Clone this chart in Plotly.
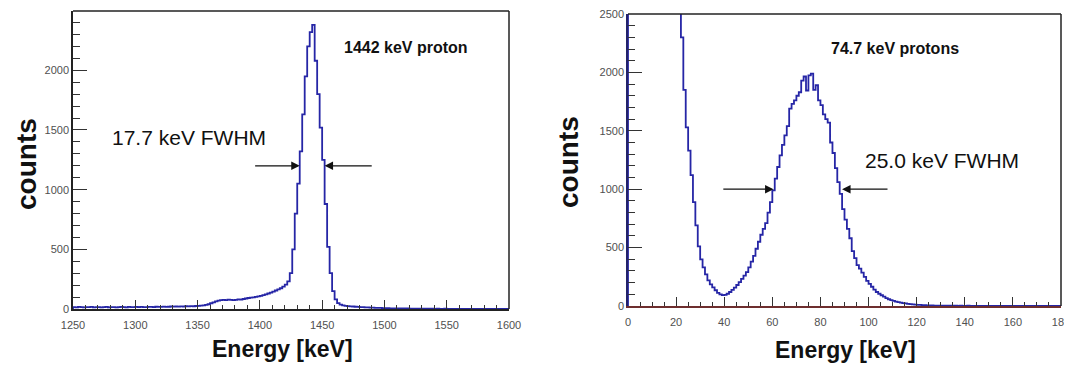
import numpy as np
import plotly.graph_objects as go

# ---------------- data ----------------
# Left spectrum: 1442 keV protons, 2 keV bins from 1250 keV
left_start = 1250
left_binw = 2
left_counts = [
    16, 14, 17, 15, 13, 16, 15, 17, 14, 15, 16, 13, 15, 17, 14, 16, 15, 14, 16, 18,
    15, 14, 17, 16, 15, 18, 16, 17, 15, 16, 18, 17, 16, 19, 17, 18, 20, 18, 19, 21,
    20, 21, 20, 22, 21, 23, 22, 24, 23, 25, 26, 28, 30, 34, 40,
    48, 56, 64, 70, 74, 76, 75, 78, 76, 74,
    77, 80, 79, 84, 88, 92, 95, 98, 102, 105,
    110, 116, 122, 130, 138, 146, 155, 164, 174, 188, 205, 232,
    300, 500, 800, 1050, 1320, 1630, 1950, 2200, 2320, 2380, 2080, 1800,
    1520, 1250, 880, 520, 300, 150, 80, 50, 36, 30, 27, 24,
    22, 21, 19, 18, 16, 15, 14, 13, 12, 11,
    10, 9, 9, 8, 8, 7, 6, 6, 5, 5, 5, 4, 4, 4, 3, 3, 3, 3, 2, 2,
    2, 2, 2, 2, 1, 2, 1, 1, 2, 1, 1, 1, 1, 1, 1, 1, 0, 1, 1, 1,
    0, 1, 1, 0, 1, 0, 1, 1, 0, 1, 0, 0, 1, 0,
]

# Right spectrum: 74.7 keV protons, 1 keV bins from 0 keV
right_start = 0
right_binw = 1
right_counts = [
    9800, 9400, 9000, 8600, 8100, 7700, 7200, 6800, 6400, 6000,
    5600, 5200, 4900, 4600, 4300, 4000, 3800, 3600, 3400, 3200,
    3000, 2650, 2300, 1850, 1530, 1330, 1120, 890, 690, 510,
    400, 330, 270, 220, 185, 160, 135, 112, 100, 93,
    95, 105, 120, 138, 158, 180, 205, 232, 260, 290,
    330, 380, 430, 490, 550, 610, 660, 710, 800, 890,
    990, 1090, 1190, 1290, 1380, 1460, 1540, 1690, 1730, 1760,
    1800, 1830, 1930, 1965, 1845, 1975, 1990, 1850, 1890, 1760,
    1720, 1640, 1600, 1570, 1400, 1310, 1180, 1060, 960, 830,
    740, 660, 580, 470, 410, 350, 320, 285, 250, 215,
    190, 165, 140, 120, 105, 92, 80, 68, 58, 50,
    44, 38, 33, 29, 25, 22, 19, 16, 14, 12,
    10, 9, 8, 7, 6, 5, 5, 4, 4, 3,
    3, 3, 2, 3, 2, 2, 2, 1, 2, 1, 1, 2, 1, 1, 1, 1, 0, 1, 1, 1,
    1, 0, 1, 1, 0, 1, 1, 0, 1, 0, 1, 1, 0, 1, 0, 1, 0, 0, 1, 0,
    1, 0, 0, 1, 0, 0, 1, 0, 0, 1,
]

left_xticks = [1250, 1300, 1350, 1400, 1450, 1500, 1550, 1600]
left_yticks = [0, 500, 1000, 1500, 2000]
right_xticks = [0, 20, 40, 60, 80, 100, 120, 140, 160, 180]
right_yticks = [0, 500, 1000, 1500, 2000, 2500]

left_label = "1442 keV proton"
left_fwhm = "17.7 keV FWHM"
right_label = "74.7 keV protons"
right_fwhm = "25.0 keV FWHM"

# FWHM arrow positions (data units): (tail, head) at height
left_arrows = [(1395, 1432), (1491, 1452)]
left_arrow_y = 1200
right_arrows = [(39, 60.5), (108.5, 89)]
right_arrow_y = 1000

# ---------------- helpers ----------------
def step_xy(start, width, counts):
    counts = np.asarray(counts, dtype=float)
    edges = start + width * np.arange(len(counts) + 1)
    x = np.concatenate([[edges[0]], edges])
    y = np.concatenate([[0.0], counts, [counts[-1]]])
    return x, y

FONT = "Liberation Sans, Arial, Helvetica, sans-serif"
LINE_COLOR = "#2626a6"

fig = go.Figure()
lx, ly = step_xy(left_start, left_binw, left_counts)
rx, ry = step_xy(right_start, right_binw, right_counts)
fig.add_trace(go.Scatter(x=lx, y=ly, mode="lines", line=dict(color=LINE_COLOR, width=1.8, shape="hv"),
                         xaxis="x", yaxis="y", showlegend=False, hoverinfo="skip"))
fig.add_trace(go.Scatter(x=rx, y=ry, mode="lines", line=dict(color=LINE_COLOR, width=1.8, shape="hv"),
                         xaxis="x2", yaxis="y2", showlegend=False, hoverinfo="skip"))

# page body margin offsets the figure by ~8px; work in page pixels
OFF = 8
W, H = 1072 - OFF, 368 - OFF

def px(xp):
    return (xp - OFF) / W

def py(yp):
    return 1 - (yp - OFF) / H

L_dom_x = [px(73), px(509)]
L_dom_y = [py(309), py(11)]
R_dom_x = [px(628), px(1061)]
R_dom_y = [py(306), py(14)]

tickfont = dict(family=FONT, size=11, color="#505050")

def xaxis(dom, rng, tv, dtick_minor, anchor, linecolor):
    return dict(domain=dom, range=rng, anchor=anchor, tickvals=tv, ticks="inside",
                ticklen=9, tickwidth=1, tickcolor="#333333", showgrid=False, zeroline=False,
                showline=True, linecolor=linecolor, linewidth=1.5, mirror=False,
                tickfont=tickfont, ticklabelstandoff=5, automargin=False,
                ticklabeloverflow="allow",
                minor=dict(ticks="inside", ticklen=4.5, dtick=dtick_minor, tickcolor="#333333",
                           showgrid=False))

def yaxis(dom, rng, tv, anchor, linecolor):
    return dict(domain=dom, range=rng, anchor=anchor, tickvals=tv, ticks="inside",
                ticklen=14, tickwidth=1, tickcolor="#333333", showgrid=False, zeroline=False,
                showline=True, linecolor=linecolor, linewidth=1.5, mirror=False,
                tickfont=tickfont, ticklabelstandoff=0, automargin=False,
                ticklabeloverflow="allow",
                minor=dict(ticks="inside", ticklen=7, dtick=100, tickcolor="#333333",
                           showgrid=False))

fig.update_layout(
    width=W, height=H, margin=dict(l=0, r=0, t=0, b=0, autoexpand=False),
    paper_bgcolor="white", plot_bgcolor="white", showlegend=False,
    xaxis=xaxis(L_dom_x, [1250, 1600], left_xticks, 10, "y", "#222222"),
    yaxis=yaxis(L_dom_y, [0, 2497], left_yticks, "x", "#222222"),
    xaxis2=xaxis(R_dom_x, [0, 180], right_xticks, 5, "y2", "#6e2e2e"),
    yaxis2=yaxis(R_dom_y, [0, 2500], right_yticks, "x2", "#22226a"),
)

# frame: top and right edges
shapes = []
for xr, yr in (("x domain", "y domain"), ("x2 domain", "y2 domain")):
    shapes.append(dict(type="line", xref=xr, yref=yr, x0=0, x1=1, y0=1, y1=1,
                       line=dict(color="#222222", width=1.5)))
    shapes.append(dict(type="line", xref=xr, yref=yr, x0=1, x1=1, y0=0, y1=1,
                       line=dict(color="#222222", width=1.5)))
fig.update_layout(shapes=shapes)

ann = []
# panel labels
ann.append(dict(x=1466, y=2190, xref="x", yref="y", text=f"<b>{left_label}</b>", showarrow=False,
                xanchor="left", yanchor="middle", font=dict(family=FONT, size=16, color="#111111")))
ann.append(dict(x=1280, y=1440, xref="x", yref="y", text=left_fwhm, showarrow=False,
                xanchor="left", yanchor="middle", font=dict(family=FONT, size=21, color="#111111")))
ann.append(dict(x=83.5, y=2205, xref="x2", yref="y2", text=f"<b>{right_label}</b>", showarrow=False,
                xanchor="left", yanchor="middle", font=dict(family=FONT, size=16, color="#111111")))
ann.append(dict(x=97.5, y=1245, xref="x2", yref="y2", text=right_fwhm, showarrow=False,
                xanchor="left", yanchor="middle", font=dict(family=FONT, size=21, color="#111111")))

# arrows
for (tail, head) in left_arrows:
    ann.append(dict(x=head, y=left_arrow_y, ax=tail, ay=left_arrow_y, xref="x", yref="y",
                    axref="x", ayref="y", text="", showarrow=True, arrowhead=2, arrowsize=1.3,
                    arrowwidth=1.3, arrowcolor="#111111"))
for (tail, head) in right_arrows:
    ann.append(dict(x=head, y=right_arrow_y, ax=tail, ay=right_arrow_y, xref="x2", yref="y2",
                    axref="x2", ayref="y2", text="", showarrow=True, arrowhead=2, arrowsize=1.3,
                    arrowwidth=1.3, arrowcolor="#111111"))

# axis titles
ann.append(dict(x=px(26), y=py(164), xref="paper", yref="paper", text="<b>counts</b>",
                textangle=-90, showarrow=False, xanchor="center", yanchor="middle",
                font=dict(family=FONT, size=28, color="#111111")))
ann.append(dict(x=px(568), y=py(162), xref="paper", yref="paper", text="<b>counts</b>",
                textangle=-90, showarrow=False, xanchor="center", yanchor="middle",
                font=dict(family=FONT, size=28, color="#111111")))
ann.append(dict(x=px(282), y=py(349), xref="paper", yref="paper", text="<b>Energy [keV]</b>",
                showarrow=False, xanchor="center", yanchor="middle",
                font=dict(family=FONT, size=23, color="#111111")))
ann.append(dict(x=px(845), y=py(350), xref="paper", yref="paper", text="<b>Energy [keV]</b>",
                showarrow=False, xanchor="center", yanchor="middle",
                font=dict(family=FONT, size=23, color="#111111")))
fig.update_layout(annotations=ann)

fig.write_html("out.html")
